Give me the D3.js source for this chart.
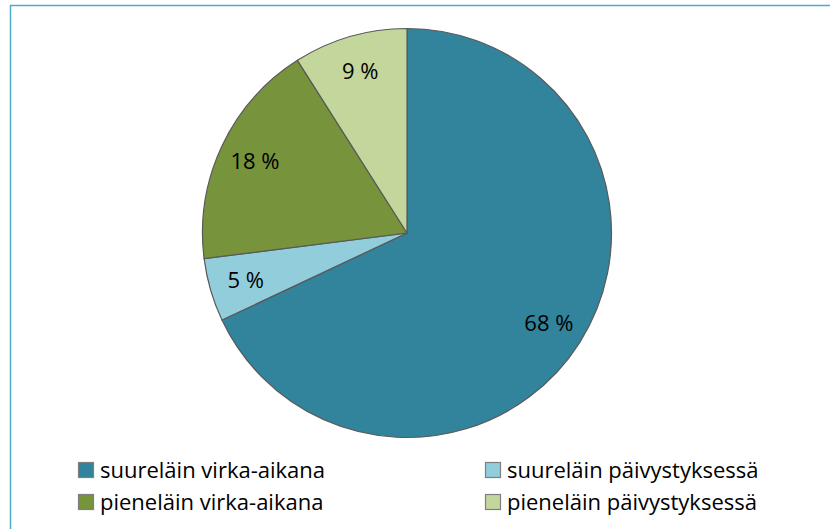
<!DOCTYPE html>
<html>
<head>
<meta charset="utf-8">
<script src="https://cdn.jsdelivr.net/npm/d3@7"></script>
<style>
  body { margin: 0; background: #fff; }
  text { font-family: "Open Sans", "Noto Sans", sans-serif; fill: #000; }
</style>
</head>
<body>
<div id="chart"></div>
<script>
// data
var categories = ["suureläin virka-aikana", "suureläin päivystyksessä", "pieneläin virka-aikana", "pieneläin päivystyksessä"];
var values = [68, 5, 18, 9];
var colors = ["#31849B", "#92CDDC", "#77933C", "#C3D69B"];

var width = 830, height = 529,
    cx = 407, cy = 233,
    radius = 204.5,
    labelRadius = 168;

var svg = d3.select("#chart").append("svg")
    .attr("width", width)
    .attr("height", height);

// outer frame (only top and left edges show in the picture)
svg.append("path")
    .attr("d", "M10.5," + height + " L10.5,5.5 L" + width + ",5.5")
    .attr("fill", "none")
    .attr("stroke", "#4BACC6")
    .attr("stroke-width", 1.5);

var data = categories.map(function(c, i) { return {name: c, value: values[i], color: colors[i]}; });

var pie = d3.pie()
    .value(function(d) { return d.value; })
    .sort(null);

var arc = d3.arc().innerRadius(0).outerRadius(radius);
var labelArc = d3.arc().innerRadius(labelRadius).outerRadius(labelRadius);

var g = svg.append("g").attr("transform", "translate(" + cx + "," + cy + ")");

var slices = g.selectAll(".arc")
    .data(pie(data))
  .enter().append("g")
    .attr("class", "arc");

slices.append("path")
    .attr("d", arc)
    .attr("fill", function(d) { return d.data.color; })
    .attr("stroke", "#595959")
    .attr("stroke-width", 1.2);

slices.append("text")
    .attr("transform", function(d) { return "translate(" + labelArc.centroid(d) + ")"; })
    .attr("text-anchor", "middle")
    .attr("dy", "0.35em")
    .style("font-size", "22px")
    .text(function(d) { return d.data.value + " %"; });

// legend, two columns
var legend = svg.append("g");
var cols = [78, 485], rows = [470, 502];

var item = legend.selectAll(".item")
    .data(data)
  .enter().append("g")
    .attr("class", "item")
    .attr("transform", function(d, i) { return "translate(" + cols[i % 2] + "," + rows[Math.floor(i / 2)] + ")"; });

item.append("rect")
    .attr("x", 0.5).attr("y", -7.5)
    .attr("width", 15).attr("height", 15)
    .attr("fill", function(d) { return d.color; })
    .attr("stroke", "#7f7f7f")
    .attr("stroke-width", 1.2);

item.append("text")
    .attr("x", 22)
    .attr("dy", "0.35em")
    .style("font-size", "22px")
    .text(function(d) { return d.name; });
</script>
</body>
</html>
